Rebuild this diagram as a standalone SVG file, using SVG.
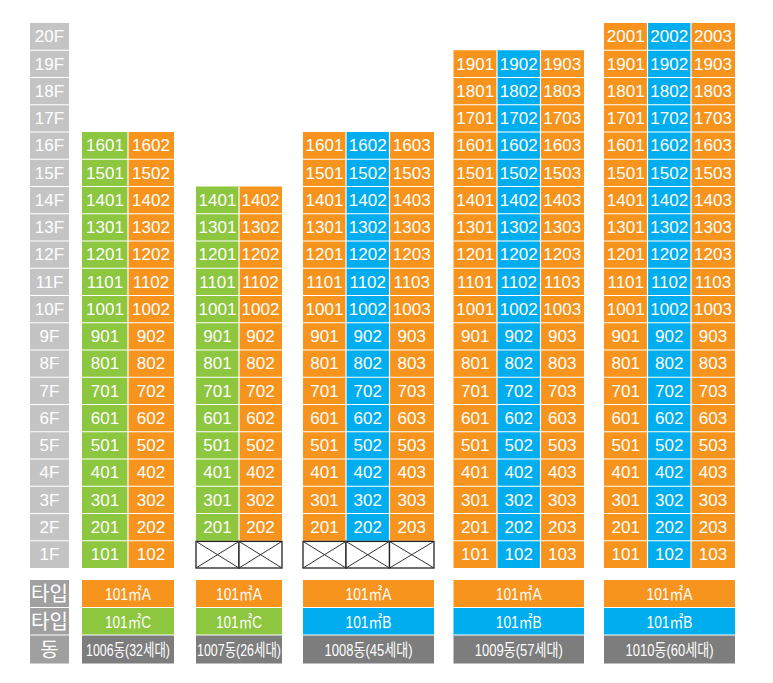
<svg xmlns="http://www.w3.org/2000/svg" width="773" height="683" viewBox="0 0 773 683">
<style>
.c{font-family:"Liberation Sans","Noto Sans CJK KR",sans-serif;font-size:17px;fill:#fff;text-anchor:middle}
.k{font-family:"Liberation Sans","Noto Sans CJK KR",sans-serif;font-size:17px;fill:#fff;text-anchor:middle}
.h{font-family:"Noto Sans CJK KR",sans-serif;font-size:20px;fill:#fff;text-anchor:middle}
.sep{stroke:#fff;stroke-width:1.2;fill:none}
.o{fill:#f7941d}.g{fill:#8dc63f}.b{fill:#00aeef}.fl{fill:#c4c4c4}.lb{fill:#a0a0a0}.dk{fill:#7d7d7d}
.ex{fill:#fff;stroke:#222;stroke-width:1.3}
.x{stroke:#333;stroke-width:1;fill:none}
</style>
<rect width="773" height="683" fill="#fff"/>
<g id="floor-labels">
<rect class="fl" x="30" y="23" width="39" height="545"/>
<path class="sep" d="M30 50.25H69M30 77.5H69M30 104.75H69M30 132H69M30 159.25H69M30 186.5H69M30 213.75H69M30 241H69M30 268.25H69M30 295.5H69M30 322.75H69M30 350H69M30 377.25H69M30 404.5H69M30 431.75H69M30 459H69M30 486.25H69M30 513.5H69M30 540.75H69"/>
<text class="c" x="49.5" y="42.4">20F</text><text class="c" x="49.5" y="69.7">19F</text><text class="c" x="49.5" y="96.9">18F</text><text class="c" x="49.5" y="124.2">17F</text><text class="c" x="49.5" y="151.4">16F</text><text class="c" x="49.5" y="178.7">15F</text><text class="c" x="49.5" y="205.9">14F</text><text class="c" x="49.5" y="233.2">13F</text><text class="c" x="49.5" y="260.4">12F</text><text class="c" x="49.5" y="287.7">11F</text><text class="c" x="49.5" y="314.9">10F</text><text class="c" x="49.5" y="342.2">9F</text><text class="c" x="49.5" y="369.4">8F</text><text class="c" x="49.5" y="396.7">7F</text><text class="c" x="49.5" y="423.9">6F</text><text class="c" x="49.5" y="451.2">5F</text><text class="c" x="49.5" y="478.4">4F</text><text class="c" x="49.5" y="505.7">3F</text><text class="c" x="49.5" y="532.9">2F</text><text class="c" x="49.5" y="560.2">1F</text>
</g>
<g id="bottom-labels">
<rect class="lb" x="30" y="580" width="39" height="83.5"/>
<path class="sep" d="M30 607.5H69M30 635H69"/>
<text class="h" x="49.5" y="601">타입</text><text class="h" x="49.5" y="628.5">타입</text><text class="h" x="49.5" y="656.5">동</text>
</g>
<g id="b1006">
<rect class="g" x="82" y="132" width="46" height="436"/><rect class="o" x="128" y="132" width="46" height="436"/>
<path class="sep" d="M128 132V568M82 159.25H174M82 186.5H174M82 213.75H174M82 241H174M82 268.25H174M82 295.5H174M82 322.75H174M82 350H174M82 377.25H174M82 404.5H174M82 431.75H174M82 459H174M82 486.25H174M82 513.5H174M82 540.75H174"/>
<text class="c" y="151.4"><tspan x="105">1601</tspan><tspan x="151">1602</tspan></text>
<text class="c" y="178.7"><tspan x="105">1501</tspan><tspan x="151">1502</tspan></text>
<text class="c" y="205.9"><tspan x="105">1401</tspan><tspan x="151">1402</tspan></text>
<text class="c" y="233.2"><tspan x="105">1301</tspan><tspan x="151">1302</tspan></text>
<text class="c" y="260.4"><tspan x="105">1201</tspan><tspan x="151">1202</tspan></text>
<text class="c" y="287.7"><tspan x="105">1101</tspan><tspan x="151">1102</tspan></text>
<text class="c" y="314.9"><tspan x="105">1001</tspan><tspan x="151">1002</tspan></text>
<text class="c" y="342.2"><tspan x="105">901</tspan><tspan x="151">902</tspan></text>
<text class="c" y="369.4"><tspan x="105">801</tspan><tspan x="151">802</tspan></text>
<text class="c" y="396.7"><tspan x="105">701</tspan><tspan x="151">702</tspan></text>
<text class="c" y="423.9"><tspan x="105">601</tspan><tspan x="151">602</tspan></text>
<text class="c" y="451.2"><tspan x="105">501</tspan><tspan x="151">502</tspan></text>
<text class="c" y="478.4"><tspan x="105">401</tspan><tspan x="151">402</tspan></text>
<text class="c" y="505.7"><tspan x="105">301</tspan><tspan x="151">302</tspan></text>
<text class="c" y="532.9"><tspan x="105">201</tspan><tspan x="151">202</tspan></text>
<text class="c" y="560.2"><tspan x="105">101</tspan><tspan x="151">102</tspan></text>
<rect class="o" x="82" y="580" width="92" height="27.5"/><rect class="g" x="82" y="607.5" width="92" height="27.5"/><rect class="dk" x="82" y="635" width="92" height="28.5"/>
<path class="sep" d="M82 607.5H174M82 635H174"/>
<text class="k" x="128" y="600" textLength="46" lengthAdjust="spacingAndGlyphs">101㎡A</text>
<text class="k" x="128" y="627.5" textLength="46" lengthAdjust="spacingAndGlyphs">101㎡C</text>
<text class="k" x="128" y="655.5" textLength="84" lengthAdjust="spacingAndGlyphs">1006동(32세대)</text>
</g>
<g id="b1007">
<rect class="g" x="196" y="186.5" width="43" height="354.25"/><rect class="o" x="239" y="186.5" width="43" height="354.25"/>
<path class="sep" d="M239 186.5V540.75M196 213.75H282M196 241H282M196 268.25H282M196 295.5H282M196 322.75H282M196 350H282M196 377.25H282M196 404.5H282M196 431.75H282M196 459H282M196 486.25H282M196 513.5H282"/>
<rect class="ex" x="196" y="541.4" width="43" height="26.6"/><rect class="ex" x="239" y="541.4" width="43" height="26.6"/>
<path class="x" d="M196 541.4L239 568M239 541.4L196 568M239 541.4L282 568M282 541.4L239 568"/>
<text class="c" y="205.9"><tspan x="217.5">1401</tspan><tspan x="260.5">1402</tspan></text>
<text class="c" y="233.2"><tspan x="217.5">1301</tspan><tspan x="260.5">1302</tspan></text>
<text class="c" y="260.4"><tspan x="217.5">1201</tspan><tspan x="260.5">1202</tspan></text>
<text class="c" y="287.7"><tspan x="217.5">1101</tspan><tspan x="260.5">1102</tspan></text>
<text class="c" y="314.9"><tspan x="217.5">1001</tspan><tspan x="260.5">1002</tspan></text>
<text class="c" y="342.2"><tspan x="217.5">901</tspan><tspan x="260.5">902</tspan></text>
<text class="c" y="369.4"><tspan x="217.5">801</tspan><tspan x="260.5">802</tspan></text>
<text class="c" y="396.7"><tspan x="217.5">701</tspan><tspan x="260.5">702</tspan></text>
<text class="c" y="423.9"><tspan x="217.5">601</tspan><tspan x="260.5">602</tspan></text>
<text class="c" y="451.2"><tspan x="217.5">501</tspan><tspan x="260.5">502</tspan></text>
<text class="c" y="478.4"><tspan x="217.5">401</tspan><tspan x="260.5">402</tspan></text>
<text class="c" y="505.7"><tspan x="217.5">301</tspan><tspan x="260.5">302</tspan></text>
<text class="c" y="532.9"><tspan x="217.5">201</tspan><tspan x="260.5">202</tspan></text>
<rect class="o" x="196" y="580" width="86" height="27.5"/><rect class="g" x="196" y="607.5" width="86" height="27.5"/><rect class="dk" x="196" y="635" width="86" height="28.5"/>
<path class="sep" d="M196 607.5H282M196 635H282"/>
<text class="k" x="239" y="600" textLength="46" lengthAdjust="spacingAndGlyphs">101㎡A</text>
<text class="k" x="239" y="627.5" textLength="46" lengthAdjust="spacingAndGlyphs">101㎡C</text>
<text class="k" x="239" y="655.5" textLength="84" lengthAdjust="spacingAndGlyphs">1007동(26세대)</text>
</g>
<g id="b1008">
<rect class="o" x="303" y="132" width="43" height="408.75"/><rect class="b" x="346" y="132" width="43.5" height="408.75"/><rect class="o" x="389.5" y="132" width="44.5" height="408.75"/>
<path class="sep" d="M346 132V540.75M389.5 132V540.75M303 159.25H434M303 186.5H434M303 213.75H434M303 241H434M303 268.25H434M303 295.5H434M303 322.75H434M303 350H434M303 377.25H434M303 404.5H434M303 431.75H434M303 459H434M303 486.25H434M303 513.5H434"/>
<rect class="ex" x="303" y="541.4" width="43" height="26.6"/><rect class="ex" x="346" y="541.4" width="43.5" height="26.6"/><rect class="ex" x="389.5" y="541.4" width="44.5" height="26.6"/>
<path class="x" d="M303 541.4L346 568M346 541.4L303 568M346 541.4L389.5 568M389.5 541.4L346 568M389.5 541.4L434 568M434 541.4L389.5 568"/>
<text class="c" y="151.4"><tspan x="324.5">1601</tspan><tspan x="367.75">1602</tspan><tspan x="411.75">1603</tspan></text>
<text class="c" y="178.7"><tspan x="324.5">1501</tspan><tspan x="367.75">1502</tspan><tspan x="411.75">1503</tspan></text>
<text class="c" y="205.9"><tspan x="324.5">1401</tspan><tspan x="367.75">1402</tspan><tspan x="411.75">1403</tspan></text>
<text class="c" y="233.2"><tspan x="324.5">1301</tspan><tspan x="367.75">1302</tspan><tspan x="411.75">1303</tspan></text>
<text class="c" y="260.4"><tspan x="324.5">1201</tspan><tspan x="367.75">1202</tspan><tspan x="411.75">1203</tspan></text>
<text class="c" y="287.7"><tspan x="324.5">1101</tspan><tspan x="367.75">1102</tspan><tspan x="411.75">1103</tspan></text>
<text class="c" y="314.9"><tspan x="324.5">1001</tspan><tspan x="367.75">1002</tspan><tspan x="411.75">1003</tspan></text>
<text class="c" y="342.2"><tspan x="324.5">901</tspan><tspan x="367.75">902</tspan><tspan x="411.75">903</tspan></text>
<text class="c" y="369.4"><tspan x="324.5">801</tspan><tspan x="367.75">802</tspan><tspan x="411.75">803</tspan></text>
<text class="c" y="396.7"><tspan x="324.5">701</tspan><tspan x="367.75">702</tspan><tspan x="411.75">703</tspan></text>
<text class="c" y="423.9"><tspan x="324.5">601</tspan><tspan x="367.75">602</tspan><tspan x="411.75">603</tspan></text>
<text class="c" y="451.2"><tspan x="324.5">501</tspan><tspan x="367.75">502</tspan><tspan x="411.75">503</tspan></text>
<text class="c" y="478.4"><tspan x="324.5">401</tspan><tspan x="367.75">402</tspan><tspan x="411.75">403</tspan></text>
<text class="c" y="505.7"><tspan x="324.5">301</tspan><tspan x="367.75">302</tspan><tspan x="411.75">303</tspan></text>
<text class="c" y="532.9"><tspan x="324.5">201</tspan><tspan x="367.75">202</tspan><tspan x="411.75">203</tspan></text>
<rect class="o" x="303" y="580" width="131" height="27.5"/><rect class="b" x="303" y="607.5" width="131" height="27.5"/><rect class="dk" x="303" y="635" width="131" height="28.5"/>
<path class="sep" d="M303 607.5H434M303 635H434"/>
<text class="k" x="368.5" y="600" textLength="46" lengthAdjust="spacingAndGlyphs">101㎡A</text>
<text class="k" x="368.5" y="627.5" textLength="46" lengthAdjust="spacingAndGlyphs">101㎡B</text>
<text class="k" x="368.5" y="655.5" textLength="88" lengthAdjust="spacingAndGlyphs">1008동(45세대)</text>
</g>
<g id="b1009">
<rect class="o" x="453.5" y="50.25" width="43.5" height="517.75"/><rect class="b" x="497" y="50.25" width="43.5" height="517.75"/><rect class="o" x="540.5" y="50.25" width="43.5" height="517.75"/>
<path class="sep" d="M497 50.25V568M540.5 50.25V568M453.5 77.5H584M453.5 104.75H584M453.5 132H584M453.5 159.25H584M453.5 186.5H584M453.5 213.75H584M453.5 241H584M453.5 268.25H584M453.5 295.5H584M453.5 322.75H584M453.5 350H584M453.5 377.25H584M453.5 404.5H584M453.5 431.75H584M453.5 459H584M453.5 486.25H584M453.5 513.5H584M453.5 540.75H584"/>
<text class="c" y="69.7"><tspan x="475.25">1901</tspan><tspan x="518.75">1902</tspan><tspan x="562.25">1903</tspan></text>
<text class="c" y="96.9"><tspan x="475.25">1801</tspan><tspan x="518.75">1802</tspan><tspan x="562.25">1803</tspan></text>
<text class="c" y="124.2"><tspan x="475.25">1701</tspan><tspan x="518.75">1702</tspan><tspan x="562.25">1703</tspan></text>
<text class="c" y="151.4"><tspan x="475.25">1601</tspan><tspan x="518.75">1602</tspan><tspan x="562.25">1603</tspan></text>
<text class="c" y="178.7"><tspan x="475.25">1501</tspan><tspan x="518.75">1502</tspan><tspan x="562.25">1503</tspan></text>
<text class="c" y="205.9"><tspan x="475.25">1401</tspan><tspan x="518.75">1402</tspan><tspan x="562.25">1403</tspan></text>
<text class="c" y="233.2"><tspan x="475.25">1301</tspan><tspan x="518.75">1302</tspan><tspan x="562.25">1303</tspan></text>
<text class="c" y="260.4"><tspan x="475.25">1201</tspan><tspan x="518.75">1202</tspan><tspan x="562.25">1203</tspan></text>
<text class="c" y="287.7"><tspan x="475.25">1101</tspan><tspan x="518.75">1102</tspan><tspan x="562.25">1103</tspan></text>
<text class="c" y="314.9"><tspan x="475.25">1001</tspan><tspan x="518.75">1002</tspan><tspan x="562.25">1003</tspan></text>
<text class="c" y="342.2"><tspan x="475.25">901</tspan><tspan x="518.75">902</tspan><tspan x="562.25">903</tspan></text>
<text class="c" y="369.4"><tspan x="475.25">801</tspan><tspan x="518.75">802</tspan><tspan x="562.25">803</tspan></text>
<text class="c" y="396.7"><tspan x="475.25">701</tspan><tspan x="518.75">702</tspan><tspan x="562.25">703</tspan></text>
<text class="c" y="423.9"><tspan x="475.25">601</tspan><tspan x="518.75">602</tspan><tspan x="562.25">603</tspan></text>
<text class="c" y="451.2"><tspan x="475.25">501</tspan><tspan x="518.75">502</tspan><tspan x="562.25">503</tspan></text>
<text class="c" y="478.4"><tspan x="475.25">401</tspan><tspan x="518.75">402</tspan><tspan x="562.25">403</tspan></text>
<text class="c" y="505.7"><tspan x="475.25">301</tspan><tspan x="518.75">302</tspan><tspan x="562.25">303</tspan></text>
<text class="c" y="532.9"><tspan x="475.25">201</tspan><tspan x="518.75">202</tspan><tspan x="562.25">203</tspan></text>
<text class="c" y="560.2"><tspan x="475.25">101</tspan><tspan x="518.75">102</tspan><tspan x="562.25">103</tspan></text>
<rect class="o" x="453.5" y="580" width="130.5" height="27.5"/><rect class="b" x="453.5" y="607.5" width="130.5" height="27.5"/><rect class="dk" x="453.5" y="635" width="130.5" height="28.5"/>
<path class="sep" d="M453.5 607.5H584M453.5 635H584"/>
<text class="k" x="518.75" y="600" textLength="46" lengthAdjust="spacingAndGlyphs">101㎡A</text>
<text class="k" x="518.75" y="627.5" textLength="46" lengthAdjust="spacingAndGlyphs">101㎡B</text>
<text class="k" x="518.75" y="655.5" textLength="88" lengthAdjust="spacingAndGlyphs">1009동(57세대)</text>
</g>
<g id="b1010">
<rect class="o" x="604" y="23" width="43.5" height="545"/><rect class="b" x="647.5" y="23" width="43.5" height="545"/><rect class="o" x="691" y="23" width="44" height="545"/>
<path class="sep" d="M647.5 23V568M691 23V568M604 50.25H735M604 77.5H735M604 104.75H735M604 132H735M604 159.25H735M604 186.5H735M604 213.75H735M604 241H735M604 268.25H735M604 295.5H735M604 322.75H735M604 350H735M604 377.25H735M604 404.5H735M604 431.75H735M604 459H735M604 486.25H735M604 513.5H735M604 540.75H735"/>
<text class="c" y="42.4"><tspan x="625.75">2001</tspan><tspan x="669.25">2002</tspan><tspan x="713">2003</tspan></text>
<text class="c" y="69.7"><tspan x="625.75">1901</tspan><tspan x="669.25">1902</tspan><tspan x="713">1903</tspan></text>
<text class="c" y="96.9"><tspan x="625.75">1801</tspan><tspan x="669.25">1802</tspan><tspan x="713">1803</tspan></text>
<text class="c" y="124.2"><tspan x="625.75">1701</tspan><tspan x="669.25">1702</tspan><tspan x="713">1703</tspan></text>
<text class="c" y="151.4"><tspan x="625.75">1601</tspan><tspan x="669.25">1602</tspan><tspan x="713">1603</tspan></text>
<text class="c" y="178.7"><tspan x="625.75">1501</tspan><tspan x="669.25">1502</tspan><tspan x="713">1503</tspan></text>
<text class="c" y="205.9"><tspan x="625.75">1401</tspan><tspan x="669.25">1402</tspan><tspan x="713">1403</tspan></text>
<text class="c" y="233.2"><tspan x="625.75">1301</tspan><tspan x="669.25">1302</tspan><tspan x="713">1303</tspan></text>
<text class="c" y="260.4"><tspan x="625.75">1201</tspan><tspan x="669.25">1202</tspan><tspan x="713">1203</tspan></text>
<text class="c" y="287.7"><tspan x="625.75">1101</tspan><tspan x="669.25">1102</tspan><tspan x="713">1103</tspan></text>
<text class="c" y="314.9"><tspan x="625.75">1001</tspan><tspan x="669.25">1002</tspan><tspan x="713">1003</tspan></text>
<text class="c" y="342.2"><tspan x="625.75">901</tspan><tspan x="669.25">902</tspan><tspan x="713">903</tspan></text>
<text class="c" y="369.4"><tspan x="625.75">801</tspan><tspan x="669.25">802</tspan><tspan x="713">803</tspan></text>
<text class="c" y="396.7"><tspan x="625.75">701</tspan><tspan x="669.25">702</tspan><tspan x="713">703</tspan></text>
<text class="c" y="423.9"><tspan x="625.75">601</tspan><tspan x="669.25">602</tspan><tspan x="713">603</tspan></text>
<text class="c" y="451.2"><tspan x="625.75">501</tspan><tspan x="669.25">502</tspan><tspan x="713">503</tspan></text>
<text class="c" y="478.4"><tspan x="625.75">401</tspan><tspan x="669.25">402</tspan><tspan x="713">403</tspan></text>
<text class="c" y="505.7"><tspan x="625.75">301</tspan><tspan x="669.25">302</tspan><tspan x="713">303</tspan></text>
<text class="c" y="532.9"><tspan x="625.75">201</tspan><tspan x="669.25">202</tspan><tspan x="713">203</tspan></text>
<text class="c" y="560.2"><tspan x="625.75">101</tspan><tspan x="669.25">102</tspan><tspan x="713">103</tspan></text>
<rect class="o" x="604" y="580" width="131" height="27.5"/><rect class="b" x="604" y="607.5" width="131" height="27.5"/><rect class="dk" x="604" y="635" width="131" height="28.5"/>
<path class="sep" d="M604 607.5H735M604 635H735"/>
<text class="k" x="669.5" y="600" textLength="46" lengthAdjust="spacingAndGlyphs">101㎡A</text>
<text class="k" x="669.5" y="627.5" textLength="46" lengthAdjust="spacingAndGlyphs">101㎡B</text>
<text class="k" x="669.5" y="655.5" textLength="88" lengthAdjust="spacingAndGlyphs">1010동(60세대)</text>
</g>
<g id="connectors"/>
</svg>
